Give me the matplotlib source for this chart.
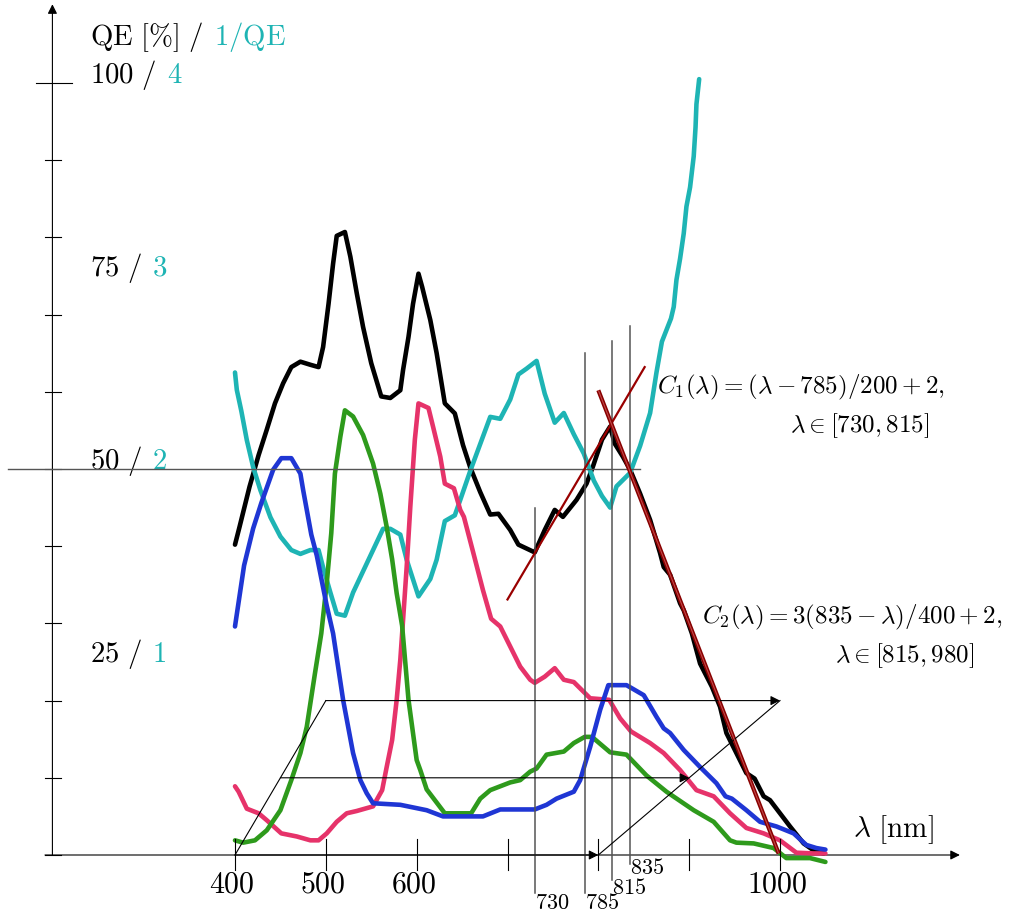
import matplotlib
matplotlib.use("Agg")
import matplotlib.pyplot as plt

plt.rcParams['mathtext.fontset'] = 'cm'

# ---------------- data ----------------
black_wl = [400,405,416,426,435,444,453,462,472,483,492,497,503,508,512,521,527,534,541,550,561,571,582,585,591,596,602,606,615,622,631,642,651,659,670,681,690,703,712,730,741,752,761,776,787,794,804,813,818,827,835,846,857,868,872,879,890,894,903,912,925,934,941,952,963,972,982,989,1000,1011,1026,1037,1048]
black_qe = [40.2,42.5,47.7,51.8,55.1,58.5,61.1,63.2,63.9,63.5,63.2,65.8,71.4,76.6,80.2,80.7,77.5,72.8,68.4,63.7,59.4,59.2,60.2,62.8,67.1,71.4,75.3,73.6,69.3,65.0,58.5,57.2,53.1,50.2,47.0,44.1,44.2,42.1,40.2,39.2,42.1,44.7,43.8,46.0,48.1,50.3,53.8,55.5,53.3,51.6,49.9,46.8,43.4,39.1,37.3,36.3,32.6,31.7,28.7,24.8,21.8,19.2,15.8,13.2,10.6,9.9,7.6,7.1,5.4,3.7,1.5,0.6,0.2]

blue_wl = [400,410,420,429,442,451,462,472,475,484,490,501,508,519,530,538,545,552,582,611,629,673,692,730,743,754,773,780,791,802,811,831,850,864,872,879,894,912,930,940,947,963,978,996,1015,1029,1040,1050]
blue_qe = [29.6,37.5,42.3,45.6,49.9,51.4,51.4,49.4,47.3,41.5,38.8,32.3,28.7,20.1,13.2,9.7,8.0,6.7,6.5,5.8,5.0,5.0,5.9,5.9,6.5,7.3,8.2,9.7,14.0,18.8,22.0,22.0,20.7,17.9,16.4,15.8,13.6,11.4,9.3,7.6,7.3,5.8,4.3,3.7,2.8,1.3,0.9,0.7]

green_wl = [400,409,422,435,450,462,472,479,488,495,501,506,510,516,521,530,541,552,560,567,573,578,584,591,600,604,611,631,660,670,681,703,714,725,732,743,762,773,785,793,813,831,853,875,905,927,945,952,971,993,1007,1033,1050]
green_qe = [1.9,1.6,1.9,3.2,5.8,9.7,13.2,16.6,23.5,28.7,35.2,41.7,49.4,54.2,57.6,56.8,54.4,50.7,46.8,42.5,38.3,33.9,29.7,20.1,12.3,11.0,8.5,5.4,5.4,7.3,8.4,9.4,9.7,10.8,11.2,13.0,13.4,14.5,15.3,15.3,13.3,13.0,10.3,8.2,5.8,4.3,1.9,1.6,1.5,0.9,-0.4,-0.4,-0.9]

pink_wl = [400,404,413,426,435,451,468,483,492,501,512,523,534,552,562,567,573,578,582,585,589,593,598,602,613,618,626,631,641,648,652,662,673,682,692,703,714,725,730,741,752,762,773,791,812,824,836,857,872,890,908,927,945,963,982,1000,1018,1037,1050]
pink_qe = [8.9,8.2,6.0,5.4,4.5,2.8,2.4,1.9,1.9,2.8,4.3,5.4,5.7,6.3,8.4,11.4,14.9,20.1,25.3,30.4,37.3,45.1,53.8,58.5,57.9,55.5,51.6,48.1,47.5,44.7,43.8,39.3,34.3,30.6,29.6,27.0,24.4,22.7,22.3,23.1,24.2,22.7,22.4,20.3,20.1,17.7,16.0,14.5,13.2,11.0,8.4,7.6,5.4,3.5,2.8,1.9,0.3,0.2,0.2]

# inverse QE (right scale, 1/QE), 4 <-> 100 %
cyan_wl = [400,402,407,413,420,428,439,450,462,472,483,492,497,505,512,521,530,545,563,571,582,589,602,615,622,631,642,648,659,670,681,692,703,712,721,732,741,752,762,773,784,795,804,813,820,835,846,857,864,870,880,883,886,890,894,897,901,905,907,908,911]
cyan_inv = [2.50,2.41,2.30,2.15,2.01,1.89,1.75,1.65,1.58,1.56,1.58,1.58,1.49,1.36,1.25,1.24,1.36,1.51,1.69,1.69,1.66,1.53,1.34,1.43,1.53,1.73,1.76,1.84,1.99,2.13,2.27,2.26,2.36,2.49,2.52,2.56,2.39,2.24,2.29,2.18,2.08,1.94,1.86,1.80,1.91,1.98,2.12,2.29,2.50,2.66,2.78,2.84,2.98,3.09,3.22,3.36,3.46,3.62,3.77,3.89,4.02]
inv_scale = 25.0

# fitted lines (wavelength, QE%) end points as drawn
c1_line_wl = [700, 851]
c1_line_qe = [33.1, 63.2]
c2_line_wl = [800, 998.5]
c2_line_qe = [60.2, 0.2]

xtick_vals = [400, 500, 600, 700, 800, 900, 1000]
xtick_labels = {400: '400', 500: '500', 600: '600', 1000: '1000'}
ytick_vals = [0, 10, 20, 30, 40, 50, 60, 70, 80, 90, 100]
ylabel_vals = [100, 75, 50, 25]
ylabel_inv = ['4', '3', '2', '1']

mark_wl = [730, 785, 815, 835]
mark_top = [44.95, 65.0, 66.6, 68.5]
mark_bottom = [-4.92, -4.92, -3.24, -1.17]
mark_label_y = [-7.0, -7.0, -5.0, -2.4]

# ---------------- colours ----------------
C_BLACK = '#000000'
C_BLUE = '#1f36d4'
C_GREEN = '#2e9a1c'
C_PINK = '#e6336a'
C_CYAN = '#1eb4b4'
C_DRED = '#990000'
C_GRAY = '#555555'

fig = plt.figure(figsize=(10.16, 9.13), dpi=100)
ax = fig.add_axes([0, 0, 1, 1])
ax.set_xlim(141.3, 1259.8)
ax.set_ylim(-7.513, 110.75)
ax.axis('off')

LW_AX = 0.8
arrow_kw = dict(arrowstyle='-|>', color='black', lw=LW_AX, mutation_scale=14,
                shrinkA=0, shrinkB=0)

# axes
ax.annotate('', xy=(1198, 0), xytext=(190.8, 0), arrowprops=arrow_kw, zorder=1)
ax.annotate('', xy=(199, 110.2), xytext=(199, 0), arrowprops=arrow_kw, zorder=1)
for v in ytick_vals:
    if v == 100:
        ax.plot([181, 220.5], [v, v], color='black', lw=LW_AX)
    else:
        ax.plot([190.5, 209], [v, v], color='black', lw=LW_AX)
for v in xtick_vals:
    ax.plot([v, v], [2.07, -1.94], color='black', lw=LW_AX, zorder=5)

# 50 % reference line
ax.plot([150, 846], [50, 50], color=C_GRAY, lw=1.0, zorder=5)

# curves
lkw = dict(lw=3.3, solid_capstyle='round', solid_joinstyle='round')
ax.plot(black_wl, black_qe, color=C_BLACK, zorder=2, **lkw)
ax.plot(cyan_wl, [v * inv_scale for v in cyan_inv], color=C_CYAN, zorder=2, **lkw)
ax.plot(pink_wl, pink_qe, color=C_PINK, zorder=2, **lkw)
ax.plot(green_wl, green_qe, color=C_GREEN, zorder=2, **lkw)
ax.plot(blue_wl, blue_qe, color=C_BLUE, zorder=2, **lkw)

# fitted lines
ax.plot(c1_line_wl, c1_line_qe, color=C_DRED, lw=1.6, zorder=6)
ax.plot(c2_line_wl, c2_line_qe, color='#880000', lw=3.0, zorder=6, solid_capstyle='butt')
ax.plot(c2_line_wl, c2_line_qe, color='#c24848', lw=0.8, zorder=7, solid_capstyle='butt')

# marker verticals
for wl, t, b, ly in zip(mark_wl, mark_top, mark_bottom, mark_label_y):
    ax.plot([wl, wl], [b, t], color=C_GRAY, lw=1.1, zorder=5)
    ax.text(wl, ly, '$%d$' % wl, fontsize=16, ha='left', va='baseline')

# construction arrows
ax.annotate('', xy=(800, 0), xytext=(400, 0), arrowprops=arrow_kw, zorder=6)
ax.plot([800, 1000], [0, 20], color='black', lw=LW_AX, zorder=6)
ax.plot([400, 500], [0, 20], color='black', lw=LW_AX, zorder=6)
ax.annotate('', xy=(1000, 20), xytext=(500, 20), arrowprops=arrow_kw, zorder=6)
ax.annotate('', xy=(900, 10), xytext=(450, 10), arrowprops=arrow_kw, zorder=6)

# x tick labels
for v, s in xtick_labels.items():
    ax.text(v - 3, -4.9, '$%s$' % s, fontsize=21.5, ha='center', va='baseline')

# y labels (two colours)
FS_Y = 20.7
for v, s in zip(ylabel_vals, ylabel_inv):
    t1 = ax.text(240.5, v, r'$%d\ /$' % v, fontsize=FS_Y, ha='left', va='baseline')
    ax.annotate('$%s$' % s, xy=(1, v), xycoords=(t1, 'data'),
                xytext=(0.36 * FS_Y, 0), textcoords='offset points',
                fontsize=FS_Y, color=C_CYAN, ha='left', va='baseline')

t1 = ax.text(240.5, 104.9, r'$\mathrm{QE}\ [\%]\ /$', fontsize=FS_Y, ha='left', va='baseline')
ax.annotate(r'$1/\mathrm{QE}$', xy=(1, 104.9), xycoords=(t1, 'data'),
            xytext=(0.36 * FS_Y, 0), textcoords='offset points',
            fontsize=FS_Y, color=C_CYAN, ha='left', va='baseline')

ax.text(1080, 2.3, r'$\lambda\ [\mathrm{nm}]$', fontsize=21, ha='left', va='baseline')

FS_C = 18
ax.text(864.6, 59.8, r'$C_1(\lambda) = (\lambda - 785)/200 + 2,$', fontsize=FS_C,
        ha='left', va='baseline')
ax.text(1011, 54.8, r'$\lambda \in [730, 815]$', fontsize=FS_C, ha='left', va='baseline')
ax.text(913.8, 30.05, r'$C_2(\lambda) = 3(835 - \lambda)/400 + 2,$', fontsize=FS_C,
        ha='left', va='baseline')
ax.text(1060.6, 25.0, r'$\lambda \in [815, 980]$', fontsize=FS_C, ha='left', va='baseline')

fig.savefig('out.png', dpi=100)
